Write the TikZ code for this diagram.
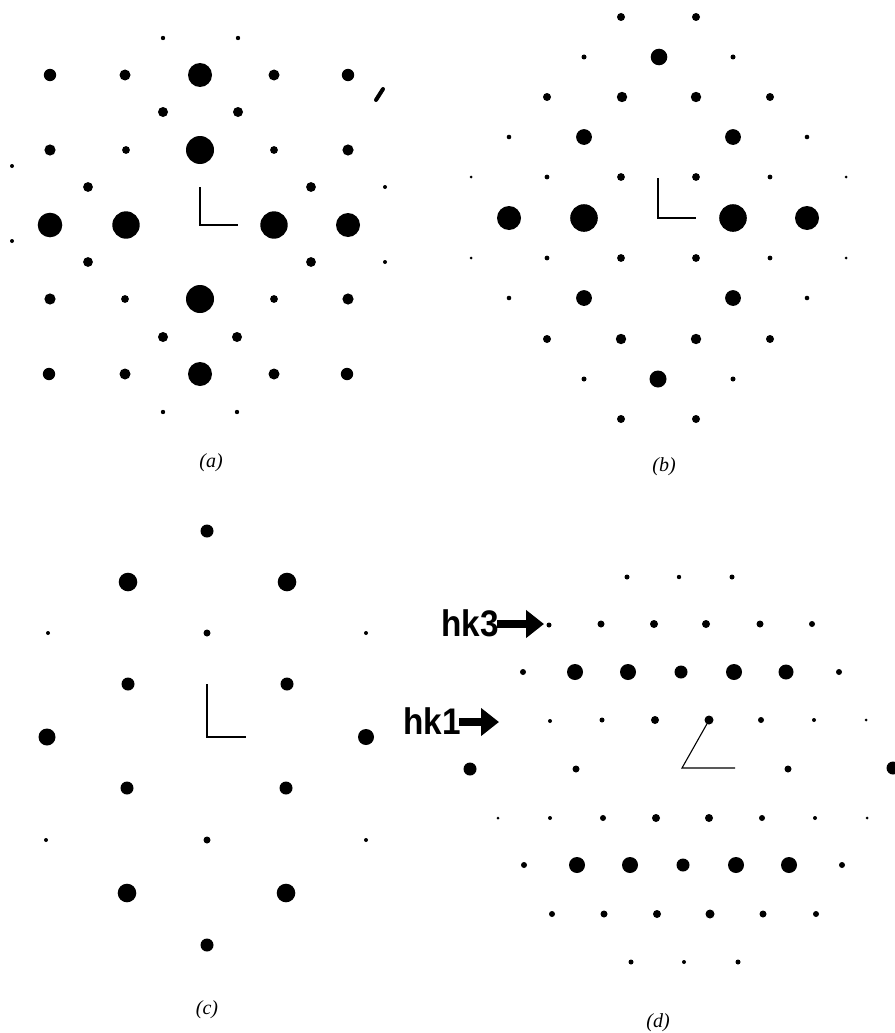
\documentclass[tikz,border=0pt]{standalone}
\usepackage{fontspec}
\setmainfont{Liberation Serif}
\newfontfamily\hkfont{Liberation Sans}
\usetikzlibrary{arrows.meta}
\tikzset{
  panellabel/.style={font=\fontsize{20}{20}\selectfont\itshape, inner sep=0pt},
  hklabel/.style={font=\hkfont\bfseries\fontsize{37}{37}\selectfont, inner sep=0pt, anchor=base east, xscale=0.9},
  fatarrow/.style={line width=8pt, -{Triangle[length=18pt,width=27pt]}},
  axisthick/.style={line width=1.6pt},
  axisthin/.style={line width=1.1pt},
}
\begin{document}
\begin{tikzpicture}[x=1pt,y=-1pt]
\useasboundingbox (0,0) rectangle (894,1033);
\fill[white] (0,0) rectangle (894,1033);
% ---- panel (a)
\foreach \x/\y/\r in {
163/38/2.2, 238/38/2.2,
50/75/6.2, 125/75/5.5, 200/75/12, 274/75/5.5, 348/75/6.2,
163/112/5, 238/112/5,
50/150/5.6, 126/150/3.9, 200/150/14, 274/150/3.9, 348/150/5.6,
12/166/2,
88/187/4.9, 311/187/4.9, 385/187/2,
50/225/12.3, 126/225/13.7, 274/225/13.7, 348/225/12,
12/241/2,
88/262/4.9, 311/262/4.9, 385/262/2,
50/299/5.6, 125/299/3.9, 200/299/14, 274/299/3.9, 348/299/5.6,
163/337/5, 237/337/5,
49/374/6.2, 125/374/5.5, 200/374/12, 274/374/5.5, 347/374/6.2,
163/412/2.2, 237/412/2.2}
  \fill (\x,\y) circle[radius=\r pt];
\draw[line width=4pt, line cap=round] (376,100) -- (383,89);
\draw[axisthick] (200,187) -- (200,225) -- (238,225);
\node[panellabel] (la) at (211,463) {(a)};
% ---- panel (b)
\foreach \x/\y/\r in {
621/17/4, 696/17/4,
584/57/2.5, 659/57/8.3, 733/57/2.5,
547/97/4, 622/97/5.2, 696/97/5.2, 770/97/4,
509/137/2.3, 584/137/7.9, 733/137/7.9, 807/137/2.3,
471/177/1.5, 547/177/2.4, 621/177/3.9, 696/177/3.9, 770/177/2.4, 846/177/1.5,
509/218/12, 584/218/13.8, 733/218/13.8, 807/218/12,
471/258/1.5, 547/258/2.4, 621/258/3.9, 696/258/3.9, 770/258/2.4, 846/258/1.5,
509/298/2.3, 584/298/7.9, 733/298/7.9, 807/298/2.3,
547/339/4, 621/339/5.2, 696/339/5.2, 770/339/4,
584/379/2.5, 658/379/8.5, 733/379/2.5,
621/419/4, 696/419/4}
  \fill (\x,\y) circle[radius=\r pt];
\draw[axisthick] (658,178) -- (658,218) -- (696,218);
\node[panellabel] (lb) at (664,467) {(b)};
% ---- panel (c)
\foreach \x/\y/\r in {
207/531/6.5,
128/582/9.3, 287/582/9.3,
48/633/2, 207/633/3.5, 366/633/2,
128/684/6.5, 287/684/6.5,
47/737/8.5, 366/737/8,
127/788/6.5, 286/788/6.5,
46/840/2, 207/840/3.5, 366/840/2,
127/893/9.3, 286/893/9.3,
207/945/6.5}
  \fill (\x,\y) circle[radius=\r pt];
\draw[axisthin] (207,684) -- (207,737) -- (246,737);
\node[panellabel] (lc) at (207,1010) {(c)};
% ---- panel (d)
\foreach \x/\y/\r in {
627/577/2.5, 679/577/2.2, 732/577/2.5,
549/625/2.5, 601/624/3.5, 654/624/4, 706/624/4, 760/624/3.5, 812/624/3,
523/672/3, 575/672/8, 628/672/8, 681/672/6.5, 734/672/8, 786/672/7.5, 839/672/3,
550/721/2, 602/720/2.5, 655/720/4, 709/720/4.5, 761/720/3, 814/720/2, 866/720/1.5,
470/769/6.5, 576/769/3.5, 788/769/3.5, 893/768/6.5,
498/818/1.5, 550/818/2, 603/818/3, 656/818/4, 709/818/4, 762/818/3, 815/818/2, 867/818/1.5,
524/865/3, 577/865/8, 630/865/8, 683/865/6.5, 736/865/8, 789/865/8, 842/865/3,
552/914/3, 604/914/3.5, 657/914/4, 710/914/4.5, 763/914/3.5, 816/914/3,
631/962/2.5, 684/962/2, 738/962/2.5}
  \fill (\x,\y) circle[radius=\r pt];
\draw[axisthin] (708,722) -- (682,768) -- (735,768);
\node[panellabel] (ld) at (658,1023) {(d)};
% ---- hk labels and arrows
\node[hklabel] (hk3) at (499,636) {hk3};
\coordinate (hk3s) at (497,624);
\coordinate (hk3t) at (544,624);
\draw[fatarrow] (hk3s) -- (hk3t);
\node[hklabel] (hk1) at (461,734) {hk1};
\coordinate (hk1s) at (459,722);
\coordinate (hk1t) at (499,722);
\draw[fatarrow] (hk1s) -- (hk1t);
\end{tikzpicture}
\end{document}
